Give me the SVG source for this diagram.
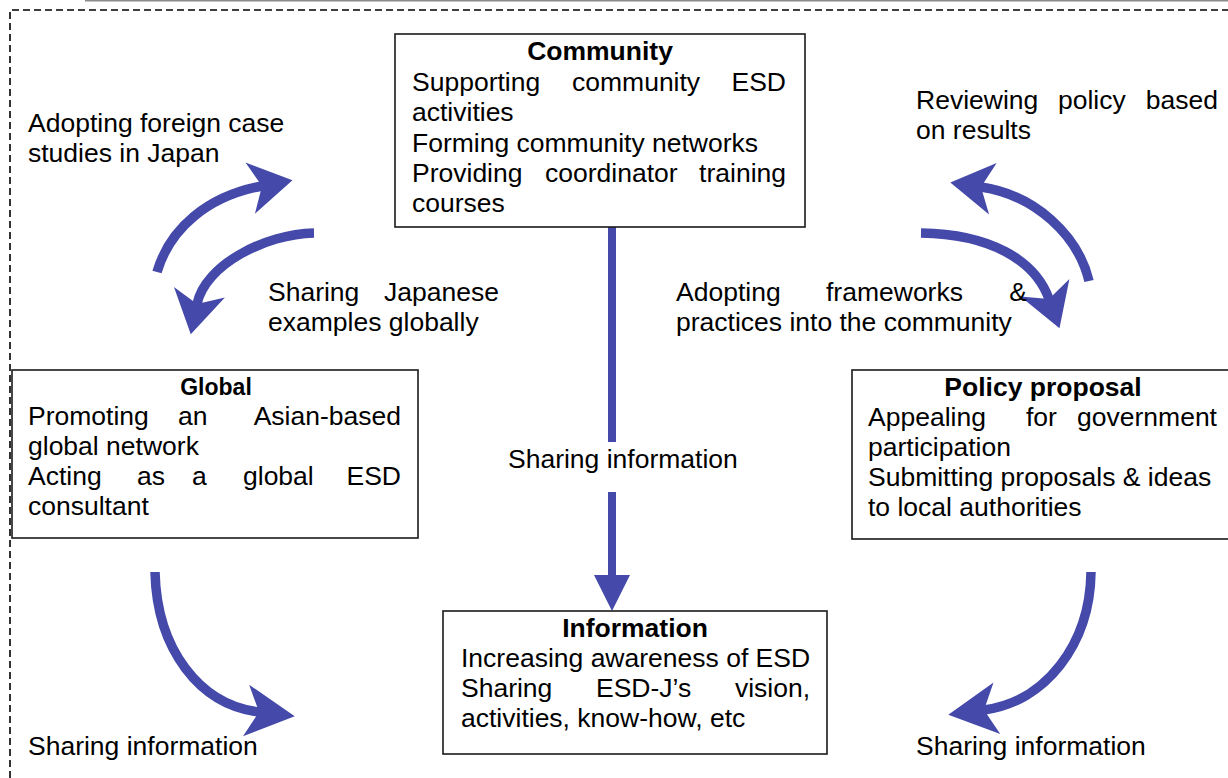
<svg xmlns="http://www.w3.org/2000/svg" width="1228" height="778" viewBox="0 0 1228 778">
<style>
  text { font-family: "Liberation Sans", Arial, sans-serif; font-size: 26.5px; fill: #000; }
  .t { font-weight: bold; text-anchor: middle; }
  .e { text-anchor: end; }
  .box { fill: #fff; stroke: #1a1a1a; stroke-width: 1.6; }
  .shaft { fill: none; stroke: #4449AA; stroke-width: 9.5; }
  .vshaft { fill: none; stroke: #4449AA; stroke-width: 8; }
</style>
<defs>
  <marker id="ah" markerUnits="userSpaceOnUse" viewBox="-20 -30 60 60" markerWidth="60" markerHeight="60" refX="0" refY="0" orient="auto" overflow="visible">
    <path d="M31,0 L-12,-26 L0,0 L-12,26 Z" fill="#4449AA"/>
  </marker>
  <marker id="ahL" markerUnits="userSpaceOnUse" viewBox="-20 -30 60 60" markerWidth="60" markerHeight="60" refX="0" refY="0" orient="auto" overflow="visible">
    <path d="M36,0 L-13,-26 L0,0 L-13,26 Z" fill="#4449AA"/>
  </marker>
  <marker id="tri" markerUnits="userSpaceOnUse" viewBox="-5 -20 45 40" markerWidth="45" markerHeight="40" refX="0" refY="0" orient="auto" overflow="visible">
    <path d="M0,-18 L36,0 L0,18 Z" fill="#4449AA"/>
  </marker>
</defs>
<rect width="1228" height="778" fill="#fff"/>
<line x1="85" y1="0.5" x2="1228" y2="0.5" stroke="#8a8a8a" stroke-width="2"/>
<path d="M10,778 L10,10 L1228,10" fill="none" stroke="#000" stroke-width="1.6" stroke-dasharray="7,4"/>

<g id="connectors">
  <path class="shaft" d="M157,272 C170,228 208,196 262,186" marker-end="url(#ah)"/>
  <path class="shaft" d="M314,233 C265,234 205,265 197,304" marker-end="url(#ah)"/>
  <path class="shaft" d="M1089,281 C1078,235 1035,195 981,187" marker-end="url(#ah)"/>
  <path class="shaft" d="M921,233 C990,234 1035,260 1049,299" marker-end="url(#ah)"/>
  <path class="shaft" d="M155,572 C157,650 200,705 259,712" marker-end="url(#ahL)"/>
  <path class="shaft" d="M1091,572 C1090,645 1045,702 984,710" marker-end="url(#ahL)"/>
  <line class="vshaft" x1="612" y1="227" x2="612" y2="442"/>
  <line class="vshaft" x1="612" y1="492" x2="612" y2="575" marker-end="url(#tri)"/>
</g>

<g id="community">
  <rect class="box" x="395" y="34" width="410" height="193"/>
  <text class="t" x="600" y="60">Community</text>
  <text x="412" y="91">Supporting</text><text x="572" y="91">community</text><text class="e" x="786" y="91">ESD</text>
  <text x="412" y="121">activities</text>
  <text x="412" y="152">Forming community networks</text>
  <text x="412" y="182">Providing</text><text x="545" y="182">coordinator</text><text class="e" x="786" y="182">training</text>
  <text x="412" y="212">courses</text>
</g>

<g id="global">
  <rect class="box" x="12" y="370" width="406" height="168"/>
  <text class="t" x="216" y="395" style="font-size:23px">Global</text>
  <text x="28" y="425">Promoting</text><text x="178" y="425">an</text><text class="e" x="401" y="425">Asian-based</text>
  <text x="28" y="455">global network</text>
  <text x="28" y="485">Acting</text><text x="137" y="485">as</text><text x="192" y="485">a</text><text x="243" y="485">global</text><text class="e" x="401" y="485">ESD</text>
  <text x="28" y="515">consultant</text>
</g>

<g id="policy">
  <rect class="box" x="852" y="370" width="390" height="169"/>
  <text class="t" x="1043" y="396">Policy proposal</text>
  <text x="868" y="426">Appealing</text><text x="1026" y="426">for</text><text class="e" x="1217" y="426">government</text>
  <text x="868" y="456">participation</text>
  <text x="868" y="486">Submitting proposals &amp; ideas</text>
  <text x="868" y="516">to local authorities</text>
</g>

<g id="information">
  <rect class="box" x="443" y="611" width="384" height="143"/>
  <text class="t" x="635" y="637">Information</text>
  <text x="461" y="667">Increasing awareness of ESD</text>
  <text x="461" y="697">Sharing</text><text x="596" y="697">ESD-J’s</text><text class="e" x="810" y="697">vision,</text>
  <text x="461" y="727">activities, know-how, etc</text>
</g>

<g id="labels">
  <text x="28" y="132">Adopting foreign case</text>
  <text x="28" y="162">studies in Japan</text>
  <text x="268" y="301">Sharing</text><text class="e" x="499" y="301">Japanese</text>
  <text x="268" y="331">examples globally</text>
  <text x="676" y="301">Adopting</text><text x="826" y="301">frameworks</text><text class="e" x="1027" y="301">&amp;</text>
  <text x="676" y="331">practices into the community</text>
  <text x="916" y="109">Reviewing</text><text x="1058" y="109">policy</text><text class="e" x="1218" y="109">based</text>
  <text x="916" y="139">on results</text>
  <text x="508" y="468">Sharing information</text>
  <text x="28" y="755">Sharing information</text>
  <text x="916" y="755">Sharing information</text>
</g>
</svg>
